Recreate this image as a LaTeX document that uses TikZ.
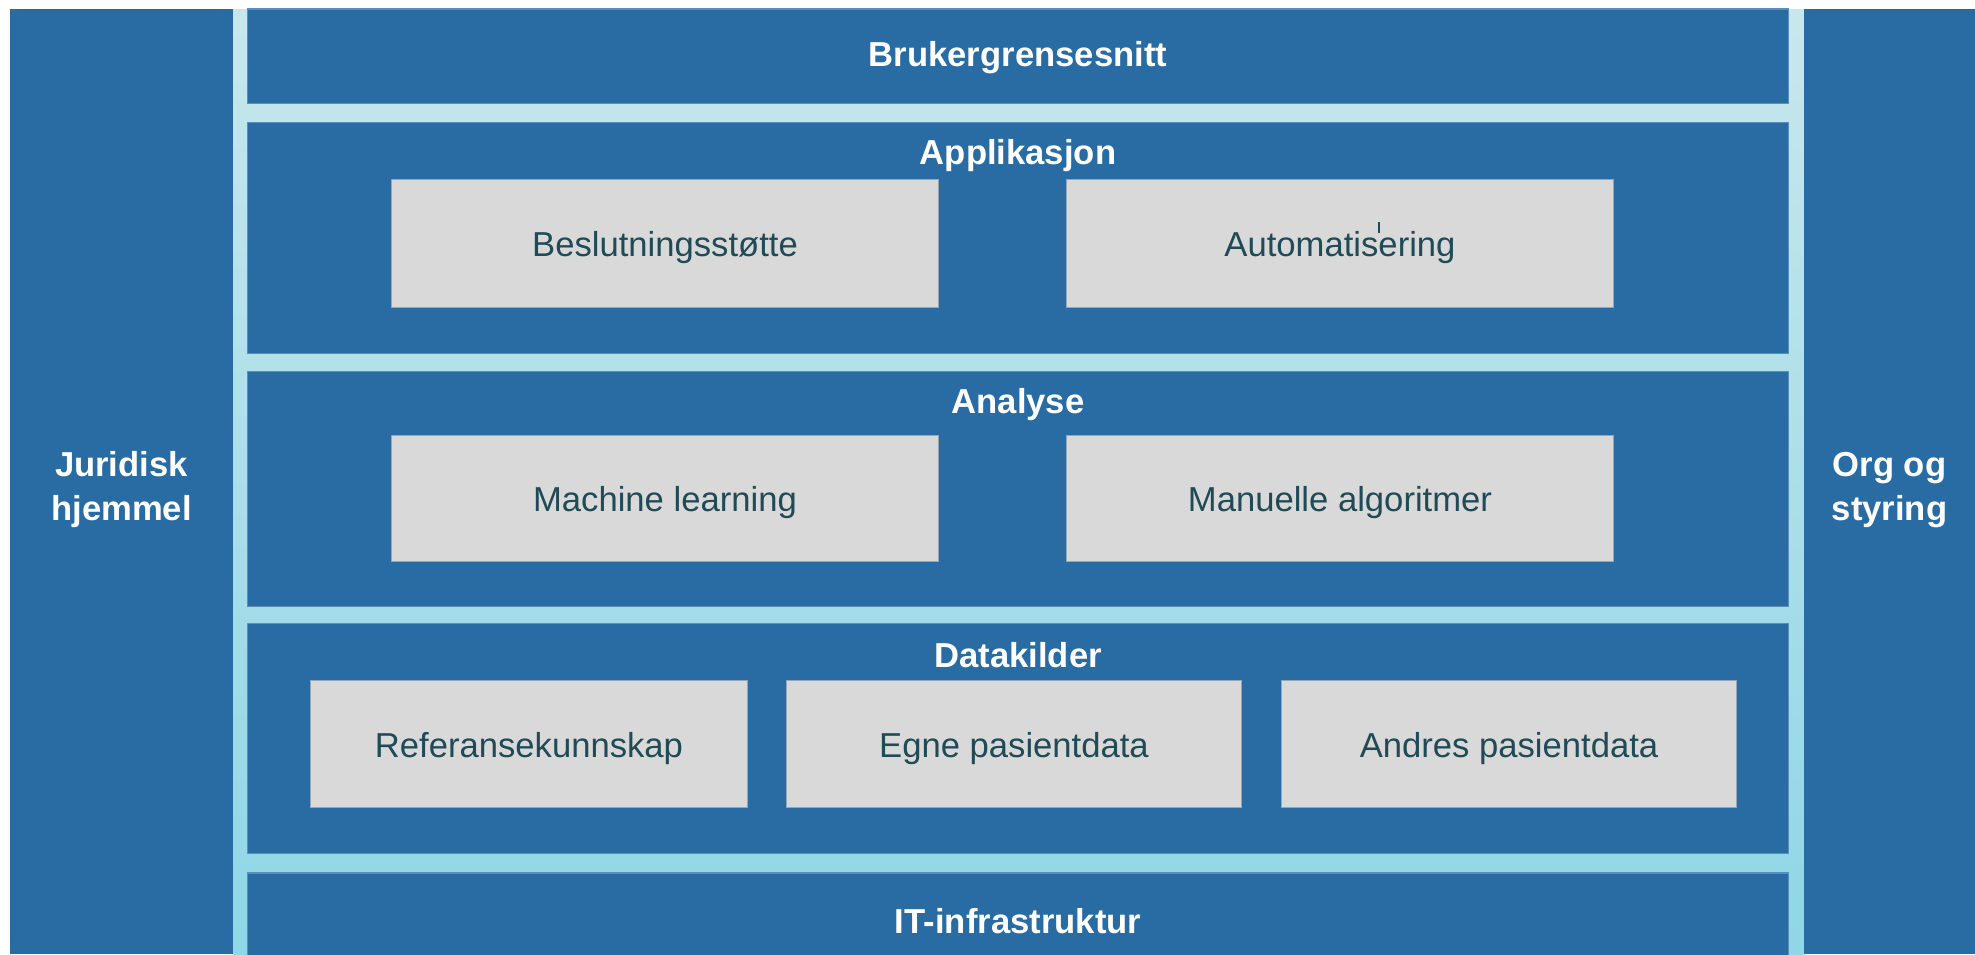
\documentclass[tikz,border=0pt]{standalone}
\usepackage{fontspec}
\setmainfont{Liberation Sans}
\usepackage{tikz}
\usetikzlibrary{positioning}

\definecolor{panelblue}{RGB}{40,108,163}
\definecolor{panelline}{RGB}{92,142,186}
\definecolor{striptop}{RGB}{200,231,237}
\definecolor{stripbot}{RGB}{143,214,230}
\definecolor{modgrey}{RGB}{217,217,217}
\definecolor{modline}{RGB}{150,166,182}
\definecolor{modtext}{RGB}{32,74,86}

\tikzset{
    side/.style = {fill=panelblue, draw=none, text=white, align=center,
        font=\fontsize{9.85}{12.5}\selectfont\bfseries},
    layer/.style = {fill=panelblue, draw=panelline, line width=0.3pt, inner sep=0pt},
    layertitle/.style = {text=white, inner sep=0pt, anchor=base,
        font=\fontsize{9.85}{12}\selectfont\bfseries},
    module/.style = {fill=modgrey, draw=modline, line width=0.3pt, text=modtext,
        minimum height=1.27cm, inner sep=0pt, text height=0.26cm, text depth=0cm,
        font=\fontsize{9.85}{12}\selectfont}
}

\begin{document}
\begin{tikzpicture}[x=0.01cm, y=-0.01cm]
    \useasboundingbox (0,0) rectangle (1975,954);
    \fill [white] (0,0) rectangle (1975,954);

    % light strips between the layers
    \shade [top color=striptop, bottom color=stripbot] (233,9) rectangle (1804,954);

    % side panels
    \fill [panelblue] (10,9) rectangle (233,954);
    \fill [panelblue] (1804,9) rectangle (1975,954);
    \node [side] (jur) at (121.5,490) {Juridisk\\hjemmel};
    \node [side] (org) at (1889.5,490) {Org og\\styring};

    % layers
    \node [layer, minimum width=15.40cm, minimum height=0.94cm] (bruker) at (1018,56) {};
    \node [layer, minimum width=15.40cm, minimum height=2.30cm] (app) at (1018,238) {};
    \node [layer, minimum width=15.40cm, minimum height=2.34cm] (ana) at (1018,489) {};
    \node [layer, minimum width=15.40cm, minimum height=2.29cm] (data) at (1018,738.5) {};
    \node [layer, minimum width=15.40cm, minimum height=0.90cm] (infra) at (1018,918) {};

    \node [layertitle] (tbruker) at (1018,66) {Brukergrensesnitt};
    \node [layertitle] (tapp) at (1018,164) {Applikasjon};
    \node [layertitle] (tana) at (1018,413) {Analyse};
    \node [layertitle] (tdata) at (1018,667) {Datakilder};
    \node [layertitle] (tinfra) at (1018,933) {IT-infrastruktur};

    % modules
    \node [module, minimum width=5.46cm] (beslut) at (665,243.5) {Beslutningsstøtte};
    \node [module, minimum width=5.46cm] (auto) at (1340,243.5) {Automatisering};
    \draw [modtext, line width=0.3pt] (1379,222) -- (1379,233);

    \node [module, minimum width=5.46cm, minimum height=1.25cm] (ml) at (665,498.5) {Machine learning};
    \node [module, minimum width=5.46cm, minimum height=1.25cm] (manuell) at (1340,498.5) {Manuelle algoritmer};

    \node [module, minimum width=4.36cm] (ref) at (529,744) {Referansekunnskap};
    \node [module, minimum width=4.54cm] (egne) at (1014,744) {Egne pasientdata};
    \node [module, minimum width=4.54cm] (andre) at (1509,744) {Andres pasientdata};
\end{tikzpicture}
\end{document}
